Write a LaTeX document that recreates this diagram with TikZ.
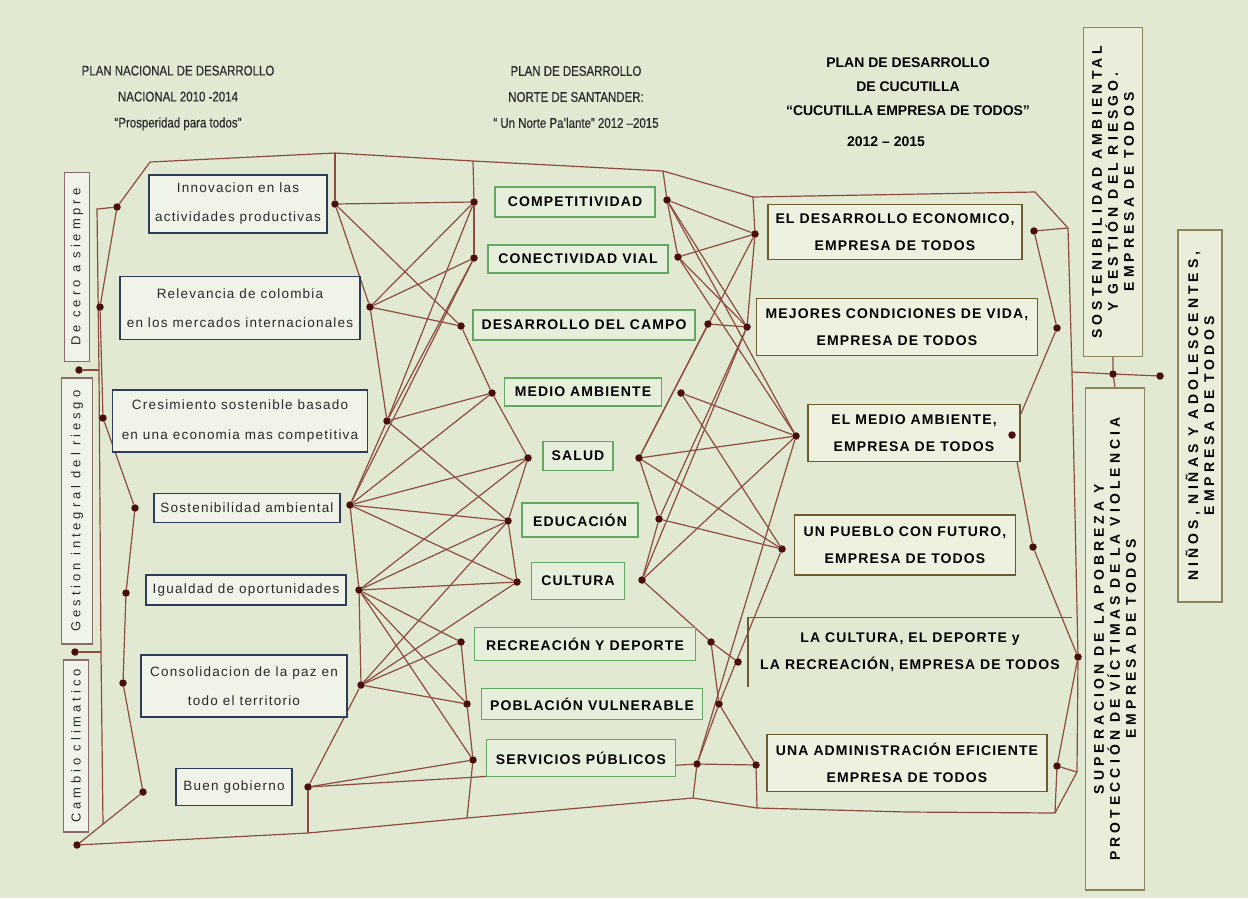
\documentclass[tikz,border=0pt]{standalone}
\usepackage{fontspec}
\setmainfont{Liberation Sans}
\newfontfamily\fHead[FakeStretch=0.82,FakeBold=0.4]{Liberation Sans}
\newfontfamily\fLeft[LetterSpace=9]{Liberation Sans}
\newfontfamily\fBold[LetterSpace=8]{Liberation Sans}
\newfontfamily\fVert[LetterSpace=30]{Liberation Sans}
\newfontfamily\fFar[LetterSpace=29]{Liberation Sans}
\definecolor{bgc}{HTML}{E1E9D3}
\definecolor{lnc}{HTML}{8E4B42}
\definecolor{dotc}{HTML}{4A0E0E}
\definecolor{lboxb}{HTML}{2F3C58}
\definecolor{lboxf}{HTML}{EFF3E8}
\definecolor{mboxb}{HTML}{62A862}
\definecolor{mboxf}{HTML}{E6EEDC}
\definecolor{rboxb}{HTML}{6B5B2E}
\definecolor{rboxf}{HTML}{EEF1E0}
\definecolor{vboxb}{HTML}{8A6A6A}
\definecolor{fboxb}{HTML}{8B8560}
\definecolor{fboxf}{HTML}{E9EDDA}
\definecolor{txt}{HTML}{2A2A2A}
\pgfdeclarelayer{bg}
\pgfdeclarelayer{lines}
\pgfsetlayers{bg,lines,main}
\tikzset{
 conn/.style={draw=lnc, line width=1.2pt},
 dot/.style={circle, fill=dotc, inner sep=0pt, minimum size=7.5pt},
 lbox/.style={draw=lboxb, line width=1.8pt, fill=lboxf, align=center, inner sep=0pt, text=txt, font=\fLeft\fontsize{13.5}{29}\selectfont},
 mbox/.style={draw=mboxb, line width=1.3pt, fill=mboxf, inner sep=0pt, text=black, font=\fBold\bfseries\fontsize{14}{17}\selectfont},
 rbox/.style={draw=rboxb, line width=1.4pt, fill=rboxf, inner sep=0pt, align=center, text=black, font=\fBold\bfseries\fontsize{14}{27}\selectfont},
 vbox/.style={draw=vboxb, line width=1.4pt, fill=lboxf, inner sep=0pt, rotate=90, text=txt, font=\fVert\fontsize{13}{15}\selectfont},
 farbox/.style={draw=fboxb, line width=1.4pt, fill=fboxf, inner sep=0pt, rotate=90, align=center, text=black, font=\fFar\bfseries\fontsize{14}{16}\selectfont},
 head/.style={align=center, text=txt, font=\fHead\fontsize{14}{26}\selectfont},
 headb/.style={align=center, text=black, font=\bfseries\fontsize{14}{24}\selectfont},
}
\begin{document}
\begin{tikzpicture}[x=1pt,y=-1pt]
\useasboundingbox (0,0) rectangle (1248,898);
\begin{pgfonlayer}{bg}
\fill[bgc] (0,0) rectangle (1248,898);
\end{pgfonlayer}

% headers
\node[head] (H1) at (178,98) {PLAN NACIONAL DE DESARROLLO\\NACIONAL 2010 -2014\\“Prosperidad para todos”};
\node[head] (H2) at (576,97) {PLAN DE DESARROLLO\\NORTE DE SANTANDER:\\“ Un Norte Pa’lante” 2012 –2015};
\node[headb] (H3) at (908,87) {PLAN DE DESARROLLO\\DE CUCUTILLA\\“CUCUTILLA EMPRESA DE TODOS”};
\node[headb] (H3y) at (886,142) {2012 – 2015};

% left vertical boxes
\node[vbox, minimum width=189pt, minimum height=25pt] (V1) at (77,267) {De cero a siempre};
\node[vbox, minimum width=266pt, minimum height=31pt] (V2) at (77,511) {Gestion integral del riesgo};
\node[vbox, minimum width=172pt, minimum height=25pt] (V3) at (76,746) {Cambio climatico};

% left boxes
\node[lbox, minimum width=178pt, minimum height=58pt] (L1) at (238,204) {Innovacion en las\\actividades productivas};
\node[lbox, minimum width=240pt, minimum height=63pt] (L2) at (240,308) {Relevancia de colombia\\en los mercados internacionales};
\node[lbox, minimum width=255pt, minimum height=62pt] (L3) at (240,421) {Cresimiento sostenible basado\\en una economia mas competitiva};
\node[lbox, minimum width=186pt, minimum height=29pt] (L4) at (247,508) {Sostenibilidad ambiental};
\node[lbox, minimum width=200pt, minimum height=30pt] (L5) at (246,590) {Igualdad de oportunidades};
\node[lbox, minimum width=206pt, minimum height=62pt] (L6) at (244,686) {Consolidacion de la paz en\\todo el territorio};
\node[lbox, minimum width=116pt, minimum height=37pt] (L7) at (234,787) {Buen gobierno};

% middle boxes
\node[mbox, minimum width=160pt, minimum height=30pt] (M1) at (575,202) {COMPETITIVIDAD};
\node[mbox, minimum width=180pt, minimum height=28pt] (M2) at (578,259) {CONECTIVIDAD VIAL};
\node[mbox, minimum width=222pt, minimum height=30pt] (M3) at (584,325) {DESARROLLO DEL CAMPO};
\node[mbox, minimum width=157pt, minimum height=28pt] (M4) at (583,392) {MEDIO AMBIENTE};
\node[mbox, minimum width=70pt, minimum height=29pt] (M5) at (578,456) {SALUD};
\node[mbox, minimum width=116pt, minimum height=34pt] (M6) at (580,520) {EDUCACIÓN};
\node[mbox, minimum width=93pt, minimum height=37pt] (M7) at (578,581) {CULTURA};
\node[mbox, minimum width=221pt, minimum height=33pt] (M8) at (585,644) {RECREACIÓN Y DEPORTE};
\node[mbox, minimum width=221pt, minimum height=31pt] (M9) at (592,704) {POBLACIÓN VULNERABLE};
\node[mbox, minimum width=189pt, minimum height=37pt] (M10) at (581,758) {SERVICIOS PÚBLICOS};

% right boxes
\node[rbox, minimum width=254pt, minimum height=55pt] (R1) at (895,232) {EL DESARROLLO ECONOMICO,\\EMPRESA DE TODOS};
\node[rbox, minimum width=281pt, minimum height=57pt] (R2) at (897,327) {MEJORES CONDICIONES DE VIDA,\\EMPRESA DE TODOS};
\node[rbox, minimum width=212pt, minimum height=57pt] (R3) at (914,433) {EL MEDIO AMBIENTE,\\EMPRESA DE TODOS};
\node[rbox, minimum width=221pt, minimum height=60pt] (R4) at (905,545) {UN PUEBLO CON FUTURO,\\EMPRESA DE TODOS};
\node[rbox, draw=none, fill=none, minimum width=323pt, minimum height=68pt] (R5) at (910,652) {LA CULTURA, EL DEPORTE y\\LA RECREACIÓN, EMPRESA DE TODOS};
\draw[draw=rboxb, line width=1.4pt] (R5.south west) -- (R5.north west) -- (R5.north east);
\node[rbox, minimum width=280pt, minimum height=57pt] (R6) at (907,763) {UNA ADMINISTRACIÓN EFICIENTE\\EMPRESA DE TODOS};

% far right boxes
\node[farbox, minimum width=329pt, minimum height=59pt] (F1) at (1113,192) {SOSTENIBILIDAD AMBIENTAL\\Y GESTIÓN DEL RIESGO.\\EMPRESA DE TODOS};
\node[farbox, minimum width=502pt, minimum height=59pt] (F2) at (1115,639) {SUPERACION DE LA POBREZA Y\\PROTECCIÓN DE VÍCTIMAS DE LA VIOLENCIA\\EMPRESA DE TODOS};
\node[farbox, minimum width=372pt, minimum height=44pt] (F3) at (1200,416) {NIÑOS, NIÑAS Y ADOLESCENTES,\\EMPRESA DE TODOS};

% dots
\foreach \n/\x/\y in {a1/117/207, a2/100/307, a3/103/418, a4/135/508, a5/126/593, a6/123/683, a7/143/792, a8/77/845,
  j1/79/370, j2/75/652,
  b1/335/204, b2/370/307, b3/387/421, b4/350/505, b5/359/590, b6/361/685, b7/308/787,
  c1/474/202, c2/474/258, c3/461/326, c4/492/393, c5/528/458, c6/508/521, c7/517/582, c8/461/642, c9/467/704, c10/473/760,
  d1/667/200, d2/678/257, d3/708/324, d4/681/393, d5/639/458, d6/659/519, d7/642/580, d8/711/642, d9/719/704, d10/697/764,
  e1/755/234, e2/747/327, e3/796/436, e4/782/549, e5/738/662, e6/756/765,
  f1/1034/231, f2/1057/328, f3/1012/435, f4/1033/547, f5/1078/657, f6/1057/766,
  k1/1113/374, k2/1160/376}
  \node[dot] (\n) at (\x,\y) {};

% bend points
\foreach \n/\x/\y in {t0/150/162, t1/335/153, t2/473/161, t3/663/171, t4/753/197, t5/1035/192, t6/1068/228,
  i1/97/209, ij1/99/370, ij2/101/652, i2/103/824,
  u1/308/833, u2/467/818, u3/693/798, u4/757/808, u5/907/812, u6/1055/813,
  r1/1072/372, r3/1077/772}
  \coordinate (\n) at (\x,\y);

\begin{pgfonlayer}{lines}
\draw[conn] (a1) -- (t0) -- (t1) -- (t2) -- (t3) -- (t4) -- (t5) -- (t6);
\draw[conn] (t1) -- (b1);
\draw[conn] (t2) -- (c1);
\draw[conn] (t3) -- (d1);
\draw[conn] (t4) -- (e1);
\draw[conn] (a1) -- (i1) -- (ij1) -- (ij2) -- (i2);
\draw[conn] (j1) -- (ij1);
\draw[conn] (j2) -- (ij2);
\draw[conn] (a1) -- (a2) -- (a3) -- (a4) -- (a5) -- (a6) -- (a7) -- (a8);
\draw[conn] (a8) -- (u1) -- (u2) -- (u3) -- (u4) -- (u5) -- (u6);
\draw[conn] (b7) -- (u1);
\draw[conn] (c10) -- (u2);
\draw[conn] (d10) -- (u3);
\draw[conn] (e6) -- (u4);
\draw[conn] (f6) -- (u6);
\draw[conn] (b1) -- (b2) -- (b3) -- (b4) -- (b5) -- (b6) -- (b7);
\draw[conn] (c1) -- (c2);
\draw[conn] (c3) -- (c4) -- (c5) -- (c6) -- (c7);
\draw[conn] (c8) -- (c9) -- (c10);
\draw[conn] (d1) -- (d2);
\draw[conn] (d5) -- (d6) -- (d7);
\draw[conn] (d8) -- (d9) -- (d10);
\draw[conn] (e1) -- (e2);
\draw[conn] (f1) -- (f2) -- (f3) -- (f4) -- (f5) -- (f6);
\draw[conn] (t6) -- (r1) -- (f5) -- (r3) -- (u6);
\draw[conn] (f1) -- (t6);
\draw[conn] (f6) -- (r3);
\draw[conn] (r1) -- (k1) -- (k2);
\draw[conn] (F1.west) -- (k1) -- (F2.east);
\draw[conn] (d7) -- (d8) -- (e5);
\draw[conn] (b7) -- (d10) -- (e6);
\foreach \s/\t in {b1/c1, b1/c3, b2/c1, b2/c2, b2/c3, b3/c1, b3/c2, b3/c4, b3/c6,
  b4/c2, b4/c4, b4/c5, b4/c6, b4/c7, b5/c5, b5/c6, b5/c7, b5/c8, b5/c9, b5/c10,
  b6/c6, b6/c7, b6/c8, b6/c9, b7/c10,
  d1/e1, d1/e2, d1/e3, d2/e1, d2/e2, d2/e3, d3/e2, d3/d5, d4/e3, d4/e4,
  d5/e1, d5/e3, d5/e4, d6/e2, d6/e4, d7/e2, d7/e3, d9/e6, d9/e4, d10/e3}
  \draw[conn] (\s) -- (\t);
\end{pgfonlayer}
\end{tikzpicture}
\end{document}
